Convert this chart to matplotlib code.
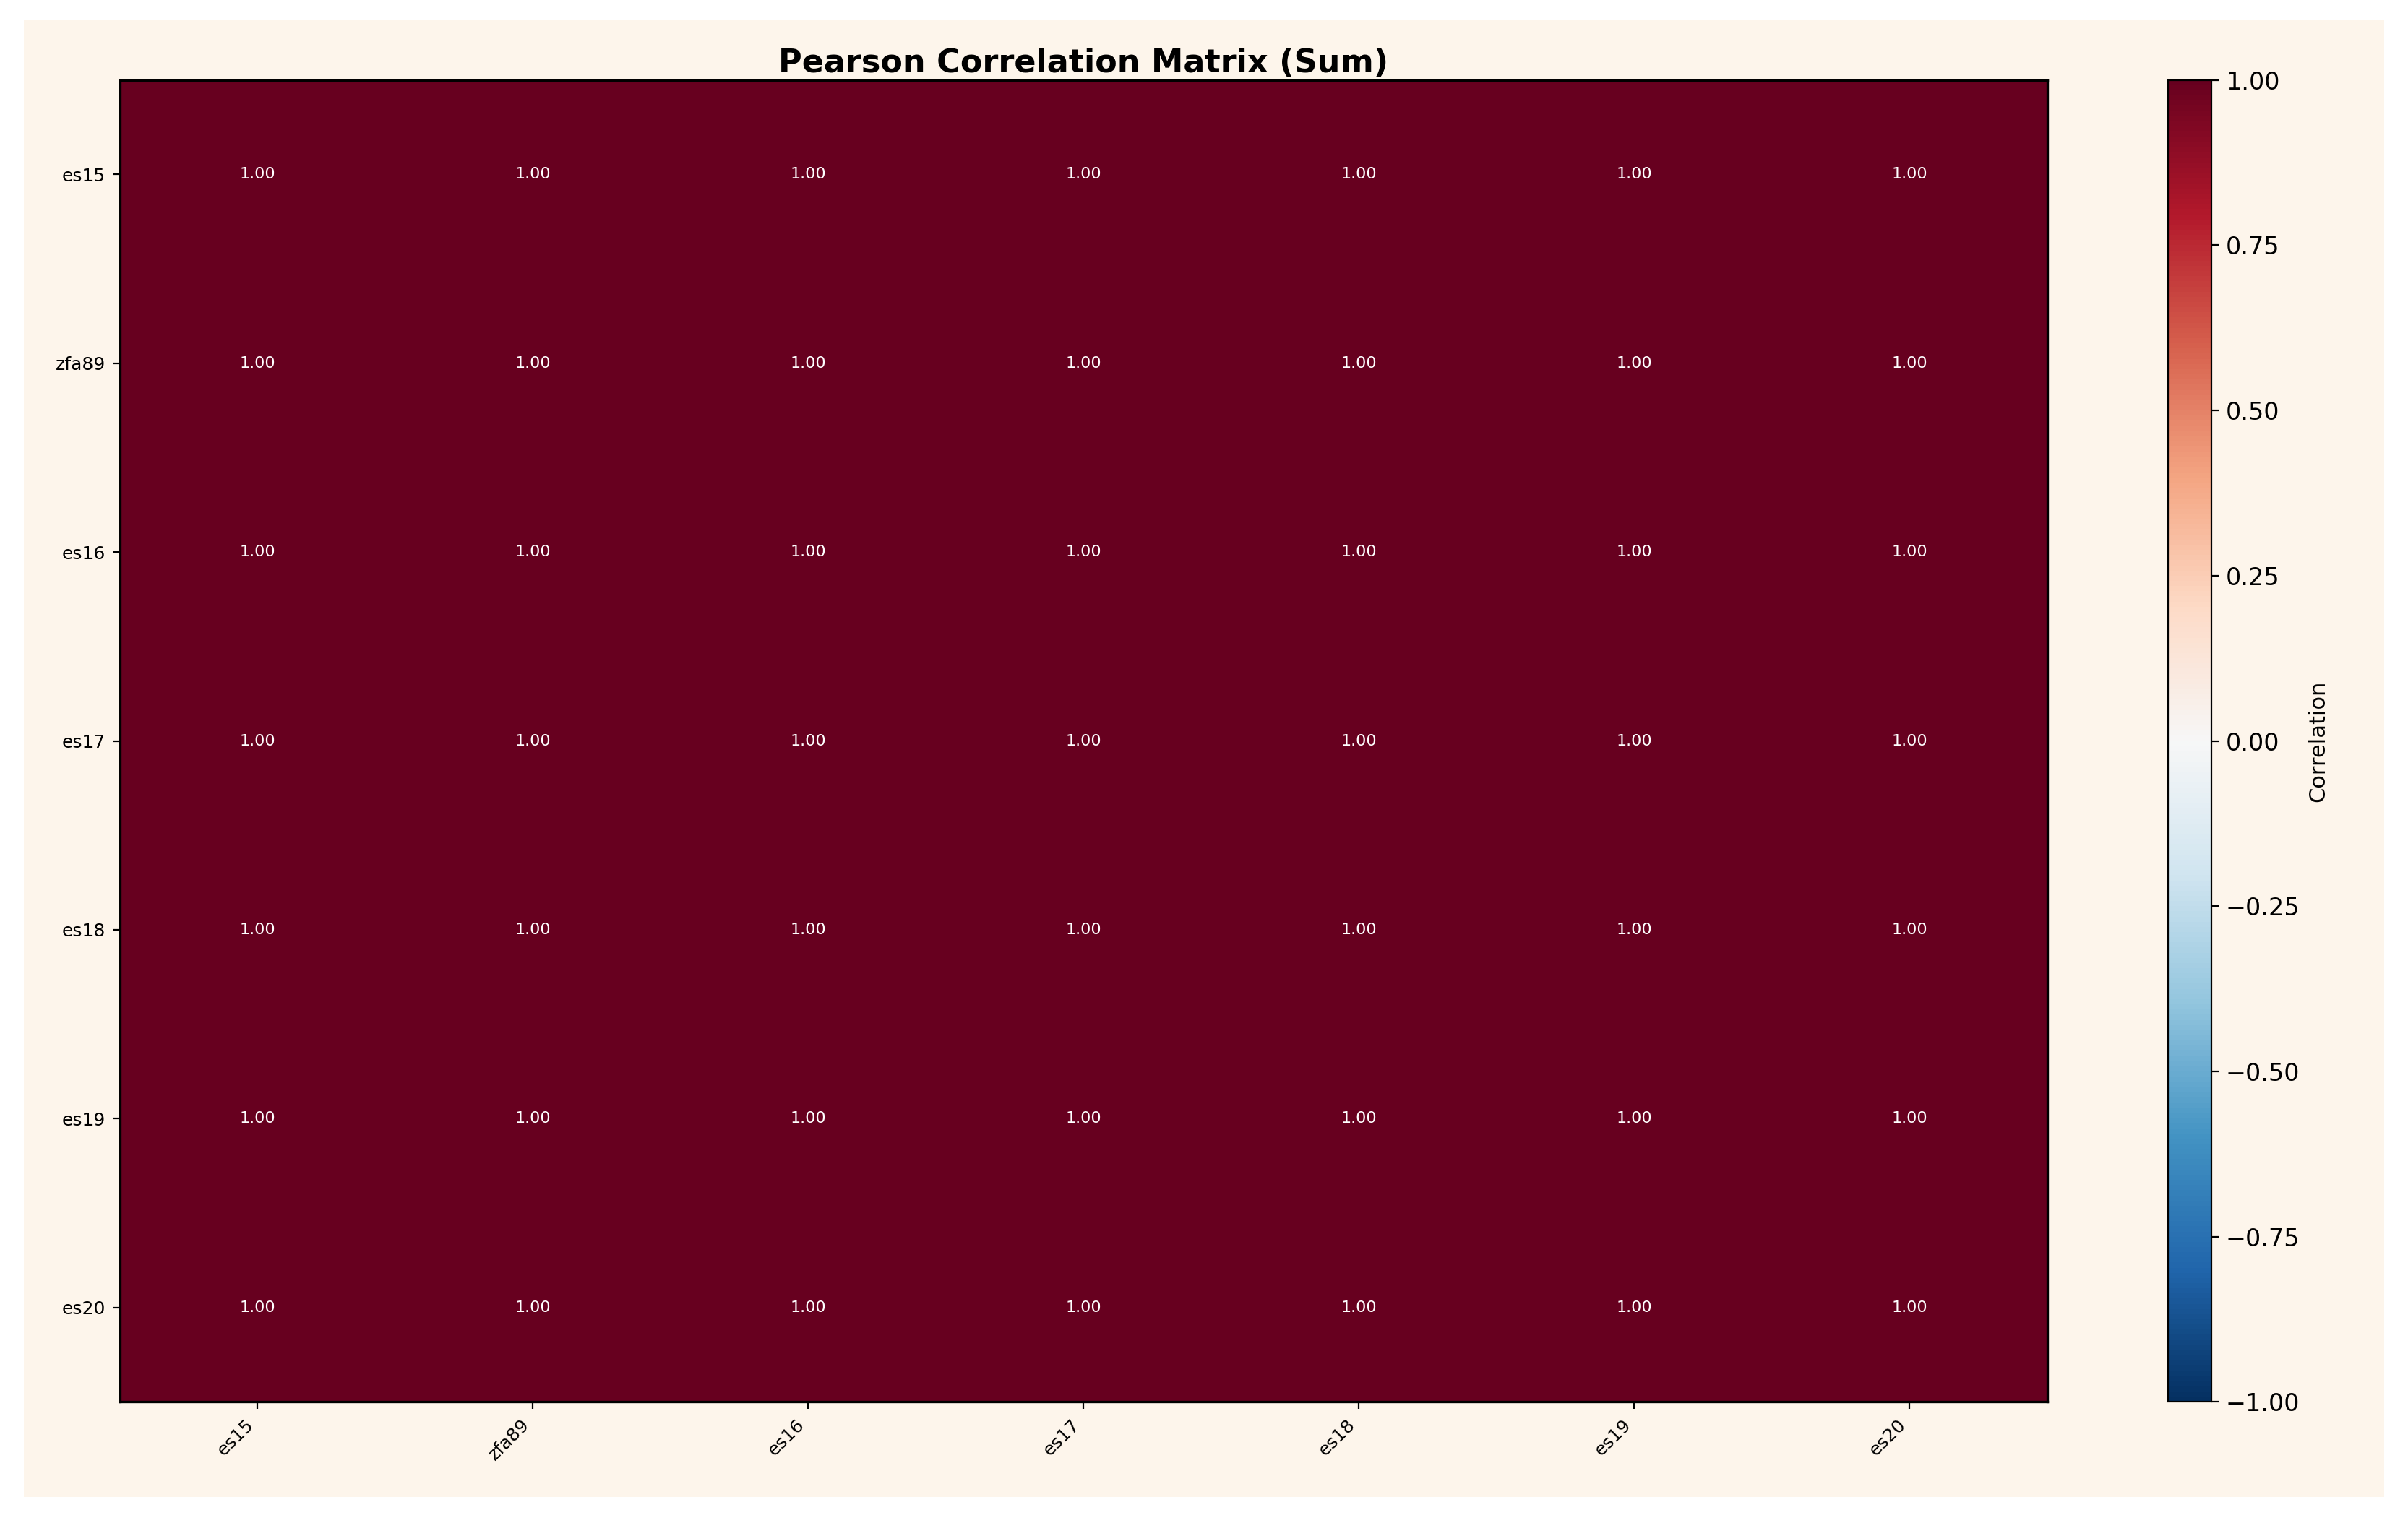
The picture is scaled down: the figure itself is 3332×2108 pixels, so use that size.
import numpy as np
import matplotlib
matplotlib.use("Agg")
import matplotlib.pyplot as plt
from matplotlib.patches import Rectangle

labels = ["es15", "zfa89", "es16", "es17", "es18", "es19", "es20"]
corr = np.ones((7, 7))

fig = plt.figure(figsize=(16.66, 10.54), dpi=200, facecolor="white")
fig.patches.append(Rectangle((0.01, 0.017), 0.98, 0.97, transform=fig.transFigure,
                             facecolor="#fdf5eb", edgecolor="none", zorder=-10))
ax = fig.add_axes([0.0497, 0.0795, 0.8005, 0.868])
im = ax.imshow(corr, cmap="RdBu_r", vmin=-1, vmax=1, aspect="auto")
for i in range(7):
    for j in range(7):
        ax.text(j, i, f"{corr[i, j]:.2f}", ha="center", va="center", color="white", fontsize=8)
ax.set_xticks(range(7))
ax.set_xticklabels(labels, rotation=45, ha="right", fontsize=9)
ax.set_yticks(range(7))
ax.set_yticklabels(labels, fontsize=9)
for s in ax.spines.values():
    s.set_linewidth(1.2)
ax.set_title("Pearson Correlation Matrix (Sum)", fontsize=16, fontweight="bold", pad=4)
cax = fig.add_axes([0.9005, 0.0795, 0.018, 0.868])
cb = fig.colorbar(im, cax=cax)
cb.set_ticks([-1, -0.75, -0.5, -0.25, 0, 0.25, 0.5, 0.75, 1])
cb.ax.tick_params(labelsize=12)
cb.set_label("Correlation", fontsize=11)
fig.savefig("out.png", dpi=200, facecolor="white")
